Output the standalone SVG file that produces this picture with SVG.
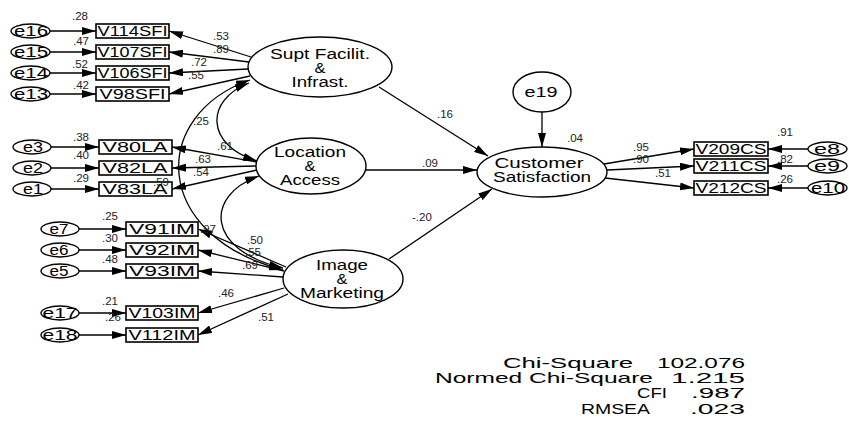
<svg xmlns="http://www.w3.org/2000/svg" width="849" height="427" viewBox="0 0 849 427">
<defs>
<marker id="ah" markerUnits="userSpaceOnUse" viewBox="0 0 14 8" refX="14" refY="4" markerWidth="14" markerHeight="8" orient="auto-start-reverse"><path d="M0,0 L14,4 L0,8 z" fill="#000"/></marker>
<style>
.lat{fill:#fff;stroke:#000;stroke-width:1.4}
.err{fill:#fff;stroke:#000;stroke-width:1.4}
.obs{fill:#fff;stroke:#000;stroke-width:1.6}
.t{font-family:"Liberation Sans",Arial,sans-serif;font-size:14px;fill:#000}
.m{text-anchor:middle}
.n{font-family:"Liberation Sans",Arial,sans-serif;font-size:11.5px;fill:#222}
.s{font-family:"Liberation Sans",Arial,sans-serif;font-size:15px;fill:#000}
.c line,.c path{stroke:#000;stroke-width:1.3;fill:none;marker-end:url(#ah)}
.c .dbl{marker-start:url(#ah)}
</style>
</defs>
<rect width="849" height="427" fill="#fff"/>

<g class="c" id="connectors">
<line x1="50" y1="31" x2="96" y2="31"/>
<line x1="50" y1="52" x2="96" y2="52"/>
<line x1="50" y1="73" x2="96" y2="73"/>
<line x1="50" y1="94" x2="96" y2="94"/>
<line x1="51" y1="147" x2="99" y2="147"/>
<line x1="51" y1="168" x2="99" y2="168"/>
<line x1="51" y1="189" x2="99" y2="189"/>
<line x1="79" y1="229" x2="126" y2="229"/>
<line x1="79" y1="250" x2="126" y2="250"/>
<line x1="79" y1="271" x2="126" y2="271"/>
<line x1="79" y1="313" x2="126" y2="313"/>
<line x1="79" y1="335" x2="126" y2="335"/>
<line x1="808" y1="149" x2="768" y2="149"/>
<line x1="808" y1="166" x2="768" y2="166"/>
<line x1="808" y1="188" x2="768" y2="188"/>
<line x1="251" y1="57" x2="169" y2="31"/>
<line x1="249" y1="62" x2="169" y2="52"/>
<line x1="248" y1="69" x2="169" y2="73"/>
<line x1="250" y1="76" x2="169" y2="94"/>
<line x1="257" y1="162" x2="172" y2="147"/>
<line x1="256" y1="166" x2="172" y2="168"/>
<line x1="257" y1="170" x2="172" y2="189"/>
<line x1="286" y1="267" x2="198" y2="229"/>
<line x1="284" y1="271" x2="198" y2="250"/>
<line x1="283" y1="277" x2="198" y2="271"/>
<line x1="284" y1="288" x2="198" y2="313"/>
<line x1="288" y1="294" x2="198" y2="335"/>
<line x1="604" y1="164" x2="694" y2="149"/>
<line x1="607" y1="170" x2="694" y2="166"/>
<line x1="605" y1="178" x2="694" y2="188"/>
<line x1="379" y1="87" x2="488" y2="156"/>
<line x1="366" y1="170" x2="477" y2="170"/>
<line x1="389" y1="259" x2="492" y2="189"/>
<line x1="542" y1="112" x2="542" y2="147"/>
<path class="dbl" d="M250,80 C150,115 150,235 283,270"/>
<path class="dbl" d="M249,83 C205,100 205,145 257,161"/>
<path class="dbl" d="M259,176 C205,195 205,250 283,268"/>
</g>

<g id="supt">
<ellipse class="lat" cx="320" cy="67" rx="72" ry="30"/>
<text class="t m" x="320" y="59" textLength="100" lengthAdjust="spacingAndGlyphs">Supt Facilit.</text>
<text class="t m" x="320" y="73" textLength="11" lengthAdjust="spacingAndGlyphs">&amp;</text>
<text class="t m" x="320" y="87" textLength="57" lengthAdjust="spacingAndGlyphs">Infrast.</text>
</g>
<g id="location">
<ellipse class="lat" cx="311" cy="166" rx="55" ry="28"/>
<text class="t m" x="310" y="157" textLength="72" lengthAdjust="spacingAndGlyphs">Location</text>
<text class="t m" x="310" y="171" textLength="11" lengthAdjust="spacingAndGlyphs">&amp;</text>
<text class="t m" x="310" y="185" textLength="60" lengthAdjust="spacingAndGlyphs">Access</text>
</g>
<g id="image">
<ellipse class="lat" cx="343" cy="279" rx="60" ry="29"/>
<text class="t m" x="342" y="270" textLength="52" lengthAdjust="spacingAndGlyphs">Image</text>
<text class="t m" x="342" y="284" textLength="11" lengthAdjust="spacingAndGlyphs">&amp;</text>
<text class="t m" x="342" y="298" textLength="84" lengthAdjust="spacingAndGlyphs">Marketing</text>
</g>
<g id="cs">
<ellipse class="lat" cx="542" cy="172" rx="65" ry="25"/>
<text class="t m" x="539" y="168" textLength="89" lengthAdjust="spacingAndGlyphs">Customer</text>
<text class="t m" x="542" y="182" textLength="98" lengthAdjust="spacingAndGlyphs">Satisfaction</text>
</g>
<g id="e19">
<ellipse class="lat" cx="542" cy="92" rx="29" ry="20"/>
<text class="t m" x="541" y="97" textLength="33" lengthAdjust="spacingAndGlyphs">e19</text>
</g>

<g id="v114sfi"><rect class="obs" x="96" y="24" width="73" height="14"/><text class="t m" x="132.5" y="36" textLength="70" lengthAdjust="spacingAndGlyphs">V114SFI</text></g>
<g id="v107sfi"><rect class="obs" x="96" y="45" width="73" height="14"/><text class="t m" x="132.5" y="57" textLength="70" lengthAdjust="spacingAndGlyphs">V107SFI</text></g>
<g id="v106sfi"><rect class="obs" x="96" y="66" width="73" height="14"/><text class="t m" x="132.5" y="78" textLength="70" lengthAdjust="spacingAndGlyphs">V106SFI</text></g>
<g id="v98sfi"><rect class="obs" x="96" y="87" width="73" height="14"/><text class="t m" x="132.5" y="99" textLength="66" lengthAdjust="spacingAndGlyphs">V98SFI</text></g>
<g id="e16"><ellipse class="err" cx="30.5" cy="31" rx="19.5" ry="7"/><text class="t m" x="31" y="36" textLength="34" lengthAdjust="spacingAndGlyphs">e16</text></g>
<g id="e15"><ellipse class="err" cx="30.5" cy="52" rx="19.5" ry="7"/><text class="t m" x="31" y="57" textLength="34" lengthAdjust="spacingAndGlyphs">e15</text></g>
<g id="e14"><ellipse class="err" cx="30.5" cy="73" rx="19.5" ry="7"/><text class="t m" x="31" y="78" textLength="34" lengthAdjust="spacingAndGlyphs">e14</text></g>
<g id="e13"><ellipse class="err" cx="30.5" cy="94" rx="19.5" ry="7"/><text class="t m" x="31" y="99" textLength="34" lengthAdjust="spacingAndGlyphs">e13</text></g>

<g id="v80la"><rect class="obs" x="99" y="140" width="73" height="14"/><text class="t m" x="135" y="152" textLength="65" lengthAdjust="spacingAndGlyphs">V80LA</text></g>
<g id="v82la"><rect class="obs" x="99" y="161" width="73" height="14"/><text class="t m" x="135" y="173" textLength="65" lengthAdjust="spacingAndGlyphs">V82LA</text></g>
<g id="v83la"><rect class="obs" x="99" y="182" width="73" height="14"/><text class="t m" x="135" y="194" textLength="65" lengthAdjust="spacingAndGlyphs">V83LA</text></g>
<g id="e3"><ellipse class="err" cx="32" cy="147" rx="19" ry="7"/><text class="t m" x="33" y="152" textLength="20" lengthAdjust="spacingAndGlyphs">e3</text></g>
<g id="e2"><ellipse class="err" cx="32" cy="168" rx="19" ry="7"/><text class="t m" x="33" y="173" textLength="20" lengthAdjust="spacingAndGlyphs">e2</text></g>
<g id="e1"><ellipse class="err" cx="32" cy="189" rx="19" ry="7"/><text class="t m" x="33" y="194" textLength="20" lengthAdjust="spacingAndGlyphs">e1</text></g>

<g id="v91im"><rect class="obs" x="126" y="222" width="72" height="14"/><text class="t m" x="162" y="234" textLength="66" lengthAdjust="spacingAndGlyphs">V91IM</text></g>
<g id="v92im"><rect class="obs" x="126" y="243" width="72" height="14"/><text class="t m" x="162" y="255" textLength="66" lengthAdjust="spacingAndGlyphs">V92IM</text></g>
<g id="v93im"><rect class="obs" x="126" y="264" width="72" height="14"/><text class="t m" x="162" y="276" textLength="66" lengthAdjust="spacingAndGlyphs">V93IM</text></g>
<g id="v103im"><rect class="obs" x="126" y="306" width="72" height="14"/><text class="t m" x="162" y="318" textLength="67" lengthAdjust="spacingAndGlyphs">V103IM</text></g>
<g id="v112im"><rect class="obs" x="126" y="328" width="72" height="14"/><text class="t m" x="162" y="340" textLength="67" lengthAdjust="spacingAndGlyphs">V112IM</text></g>
<g id="e7"><ellipse class="err" cx="60" cy="229" rx="19" ry="7"/><text class="t m" x="59" y="234" textLength="19" lengthAdjust="spacingAndGlyphs">e7</text></g>
<g id="e6"><ellipse class="err" cx="60" cy="250" rx="19" ry="7"/><text class="t m" x="59" y="255" textLength="19" lengthAdjust="spacingAndGlyphs">e6</text></g>
<g id="e5"><ellipse class="err" cx="60" cy="271" rx="19" ry="7"/><text class="t m" x="59" y="276" textLength="19" lengthAdjust="spacingAndGlyphs">e5</text></g>
<g id="e17"><ellipse class="err" cx="60" cy="313" rx="19" ry="7"/><text class="t m" x="60" y="318" textLength="35" lengthAdjust="spacingAndGlyphs">e17</text></g>
<g id="e18"><ellipse class="err" cx="60" cy="335" rx="19" ry="7"/><text class="t m" x="60" y="340" textLength="35" lengthAdjust="spacingAndGlyphs">e18</text></g>

<g id="v209cs"><rect class="obs" x="694" y="142" width="74" height="14"/><text class="t m" x="731" y="154" textLength="71" lengthAdjust="spacingAndGlyphs">V209CS</text></g>
<g id="v211cs"><rect class="obs" x="694" y="159" width="74" height="14"/><text class="t m" x="731" y="171" textLength="71" lengthAdjust="spacingAndGlyphs">V211CS</text></g>
<g id="v212cs"><rect class="obs" x="694" y="181" width="74" height="14"/><text class="t m" x="731" y="193" textLength="71" lengthAdjust="spacingAndGlyphs">V212CS</text></g>
<g id="e8"><ellipse class="err" cx="827.5" cy="149" rx="19.5" ry="7"/><text class="t m" x="827" y="154" textLength="26" lengthAdjust="spacingAndGlyphs">e8</text></g>
<g id="e9"><ellipse class="err" cx="827.5" cy="166" rx="19.5" ry="7"/><text class="t m" x="827" y="171" textLength="26" lengthAdjust="spacingAndGlyphs">e9</text></g>
<g id="e10"><ellipse class="err" cx="827.5" cy="188" rx="19.5" ry="7"/><text class="t m" x="828" y="193" textLength="34" lengthAdjust="spacingAndGlyphs">e10</text></g>

<g id="labels">
<text class="n" x="72" y="20">.28</text>
<text class="n" x="73" y="45">.47</text>
<text class="n" x="72" y="68">.52</text>
<text class="n" x="73" y="89">.42</text>
<text class="n" x="213" y="40">.53</text>
<text class="n" x="213" y="53">.89</text>
<text class="n" x="191" y="66">.72</text>
<text class="n" x="188" y="79">.55</text>
<text class="n" x="73" y="141">.38</text>
<text class="n" x="73" y="159">.40</text>
<text class="n" x="73" y="182">.29</text>
<text class="n" x="217" y="150">.61</text>
<text class="n" x="195" y="163">.63</text>
<text class="n" x="193" y="176">.54</text>
<text class="n" x="153" y="186">.59</text>
<text class="n" x="193" y="125">.25</text>
<text class="n" x="102" y="220">.25</text>
<text class="n" x="102" y="242">.30</text>
<text class="n" x="102" y="263">.48</text>
<text class="n" x="102" y="305">.21</text>
<text class="n" x="105" y="321">.26</text>
<text class="n" x="200" y="233">.97</text>
<text class="n" x="247" y="244">.50</text>
<text class="n" x="245" y="256">.55</text>
<text class="n" x="242" y="269">.69</text>
<text class="n" x="218" y="297">.46</text>
<text class="n" x="258" y="321">.51</text>
<text class="n" x="567" y="142">.04</text>
<text class="n" x="633" y="151">.95</text>
<text class="n" x="633" y="163">.90</text>
<text class="n" x="655" y="177">.51</text>
<text class="n" x="777" y="136">.91</text>
<text class="n" x="777" y="163">.82</text>
<text class="n" x="777" y="183">.26</text>
<text class="n" x="437" y="118">.16</text>
<text class="n" x="422" y="167">.09</text>
<text class="n" x="412" y="221">-.20</text>
</g>

<g id="fit">
<text class="s" x="503" y="368" textLength="130" lengthAdjust="spacingAndGlyphs">Chi-Square</text>
<text class="s" x="657" y="368" textLength="88" lengthAdjust="spacingAndGlyphs">102.076</text>
<text class="s" x="435" y="383" textLength="218" lengthAdjust="spacingAndGlyphs">Normed Chi-Square</text>
<text class="s" x="671" y="383" textLength="74" lengthAdjust="spacingAndGlyphs">1.215</text>
<text class="s" x="637" y="398" textLength="30" lengthAdjust="spacingAndGlyphs">CFI</text>
<text class="s" x="691" y="398" textLength="54" lengthAdjust="spacingAndGlyphs">.987</text>
<text class="s" x="581" y="414" textLength="69" lengthAdjust="spacingAndGlyphs">RMSEA</text>
<text class="s" x="690" y="414" textLength="55" lengthAdjust="spacingAndGlyphs">.023</text>
</g>
</svg>
